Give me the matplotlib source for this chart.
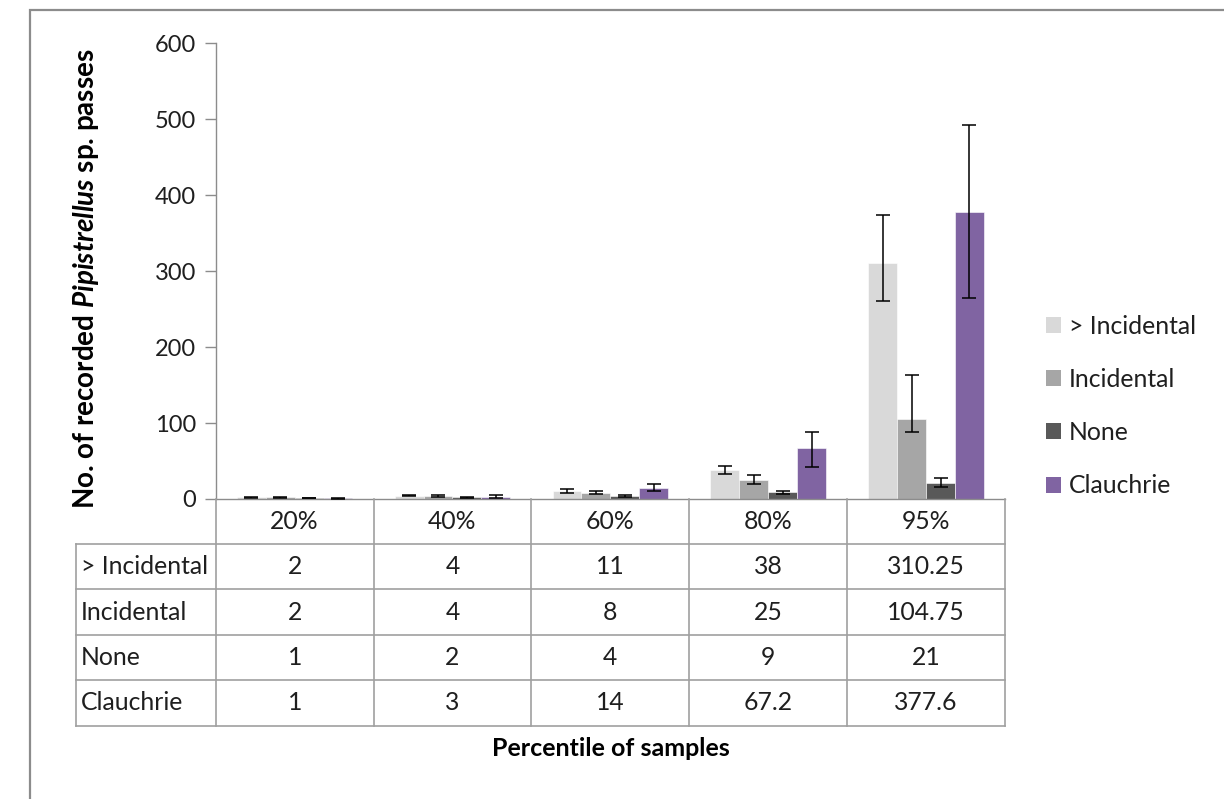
import matplotlib
matplotlib.use("Agg")
import matplotlib.pyplot as plt
import matplotlib.transforms as mtransforms
from matplotlib.patches import Patch, Rectangle
from matplotlib.lines import Line2D
import numpy as np

plt.rcParams['font.family'] = ['Lato', 'DejaVu Sans']
plt.rcParams['mathtext.fontset'] = 'custom'
plt.rcParams['mathtext.it'] = 'Lato:bold:italic'
plt.rcParams['mathtext.rm'] = 'Lato:bold'
plt.rcParams['mathtext.bf'] = 'Lato:bold'

categories = ["20%", "40%", "60%", "80%", "95%"]
series_names = ["> Incidental", "Incidental", "None", "Clauchrie"]
values_gt_incidental = [2, 4, 11, 38, 310.25]
values_incidental = [2, 4, 8, 25, 104.75]
values_none = [1, 2, 4, 9, 21]
values_clauchrie = [1, 3, 14, 67.2, 377.6]
table_labels_gt_incidental = ["2", "4", "11", "38", "310.25"]
table_labels_incidental = ["2", "4", "8", "25", "104.75"]
table_labels_none = ["1", "2", "4", "9", "21"]
table_labels_clauchrie = ["1", "3", "14", "67.2", "377.6"]
# error bars (lower, upper)
err_low_gt_incidental = [0.5, 0.7, 3, 5, 50]
err_up_gt_incidental = [0.5, 0.7, 2, 6, 64]
err_low_incidental = [0.5, 1, 1.5, 5, 17]
err_up_incidental = [0.5, 1, 2.5, 6, 58]
err_low_none = [0.3, 0.5, 1, 2, 5]
err_up_none = [0.3, 0.5, 1, 2, 7]
err_low_clauchrie = [0.5, 1.7, 4, 25, 113]
err_up_clauchrie = [0.5, 2.5, 6, 21, 115]
yticks = [0, 100, 200, 300, 400, 500, 600]

colors = ["#D9D9D9", "#A6A6A6", "#595959", "#8064A2"]
series_values = [values_gt_incidental, values_incidental, values_none, values_clauchrie]
series_labels = [table_labels_gt_incidental, table_labels_incidental, table_labels_none, table_labels_clauchrie]
series_lo = [err_low_gt_incidental, err_low_incidental, err_low_none, err_low_clauchrie]
series_up = [err_up_gt_incidental, err_up_incidental, err_up_none, err_up_clauchrie]

W, H = 1224, 799
fig = plt.figure(figsize=(W / 100, H / 100), dpi=100)

def fx(px):
    return px / W

def fy(py):
    return 1 - py / H

text_col = "#1F1F1F"

# outer chart border (clipped by figure edge)
fig.patches.append(Rectangle((fx(30), fy(830)), fx(1250 - 30), fy(10) - fy(830),
                             transform=fig.transFigure, fill=False,
                             edgecolor="#8C8C8C", linewidth=1.6))

ax_left, ax_right, ax_top, ax_bottom = 215.7, 1005, 43.5, 499
ax = fig.add_axes([fx(ax_left), fy(ax_bottom), fx(ax_right - ax_left), fy(ax_top) - fy(ax_bottom)])

x = np.arange(len(categories))
bw = 0.183
grid_col = "#A0A0A0"
for i, (vals, col) in enumerate(zip(series_values, colors)):
    pos = x + (i - 1.5) * bw
    ax.bar(pos, vals, width=bw, color=col, edgecolor="white", linewidth=0.4,
           label=series_names[i], zorder=2)
    ax.errorbar(pos, vals, yerr=[series_lo[i], series_up[i]], fmt="none",
                ecolor="black", elinewidth=1.1, capsize=5, capthick=1.1, zorder=3)

ax.set_xlim(-0.5, len(categories) - 0.5)
ax.set_ylim(0, 600)
ax.set_yticks(yticks)
ax.set_yticklabels([str(t) for t in yticks], fontsize=17, color=text_col)
ax.tick_params(axis="y", length=8, width=1, color="#8C8C8C", pad=6, direction="out")
ax.tick_params(axis="x", length=0, labelbottom=False)
for s in ["top", "right"]:
    ax.spines[s].set_visible(False)
ax.spines["left"].set_color("#8C8C8C")
ax.spines["bottom"].set_color("#8C8C8C")
ax.spines["left"].set_linewidth(1)
ax.spines["bottom"].set_linewidth(1)

# y label
fig.text(fx(86), fy(279), "No. of recorded $\\mathit{Pipistrellus}$ sp. passes",
         rotation=90, ha="center", va="center", fontsize=20, fontweight="bold", color="black")

# data table
trans = mtransforms.blended_transform_factory(ax.transData, fig.transFigure)
row_edges_px = [499, 543.5, 589, 635, 680, 726]
table_font = 17.8
# vertical lines at category boundaries
for b in np.arange(-0.5, len(categories), 1.0):
    fig.add_artist(Line2D([b, b], [fy(row_edges_px[0]), fy(row_edges_px[-1])],
                          transform=trans, color=grid_col, linewidth=1.2))
# horizontal lines
for r in row_edges_px[1:]:
    fig.add_artist(Line2D([fx(75.7), fx(ax_right)], [fy(r), fy(r)],
                          transform=fig.transFigure, color=grid_col, linewidth=1.2))
# left column border
fig.add_artist(Line2D([fx(75.7), fx(75.7)], [fy(row_edges_px[1]), fy(row_edges_px[-1])],
                      transform=fig.transFigure, color=grid_col, linewidth=1.2))
# header row
hy = fy((row_edges_px[0] + row_edges_px[1]) / 2)
for i, c in enumerate(categories):
    fig.text(i, hy, c, transform=trans, ha="center", va="center", fontsize=table_font, color=text_col)
# body rows
for r, (name, labs) in enumerate(zip(series_names, series_labels)):
    cy = fy((row_edges_px[r + 1] + row_edges_px[r + 2]) / 2)
    fig.text(fx(81), cy, name, ha="left", va="center", fontsize=table_font, color=text_col)
    for i, lab in enumerate(labs):
        fig.text(i, cy, lab, transform=trans, ha="center", va="center", fontsize=table_font, color=text_col)

# x axis title
fig.text(fx(611), fy(748), "Percentile of samples", ha="center", va="center",
         fontsize=18, fontweight="bold", color="black")

# legend
handles = [Patch(facecolor=c, edgecolor="none") for c in colors]
fig.legend(handles, series_names, loc="center left", bbox_to_anchor=(fx(1046), fy(406)),
           frameon=False, fontsize=17.8, handlelength=0.62, handleheight=0.62,
           handletextpad=0.3, labelspacing=1.22, borderpad=0, borderaxespad=0,
           labelcolor=text_col)

fig.savefig("out.png", dpi=100)
